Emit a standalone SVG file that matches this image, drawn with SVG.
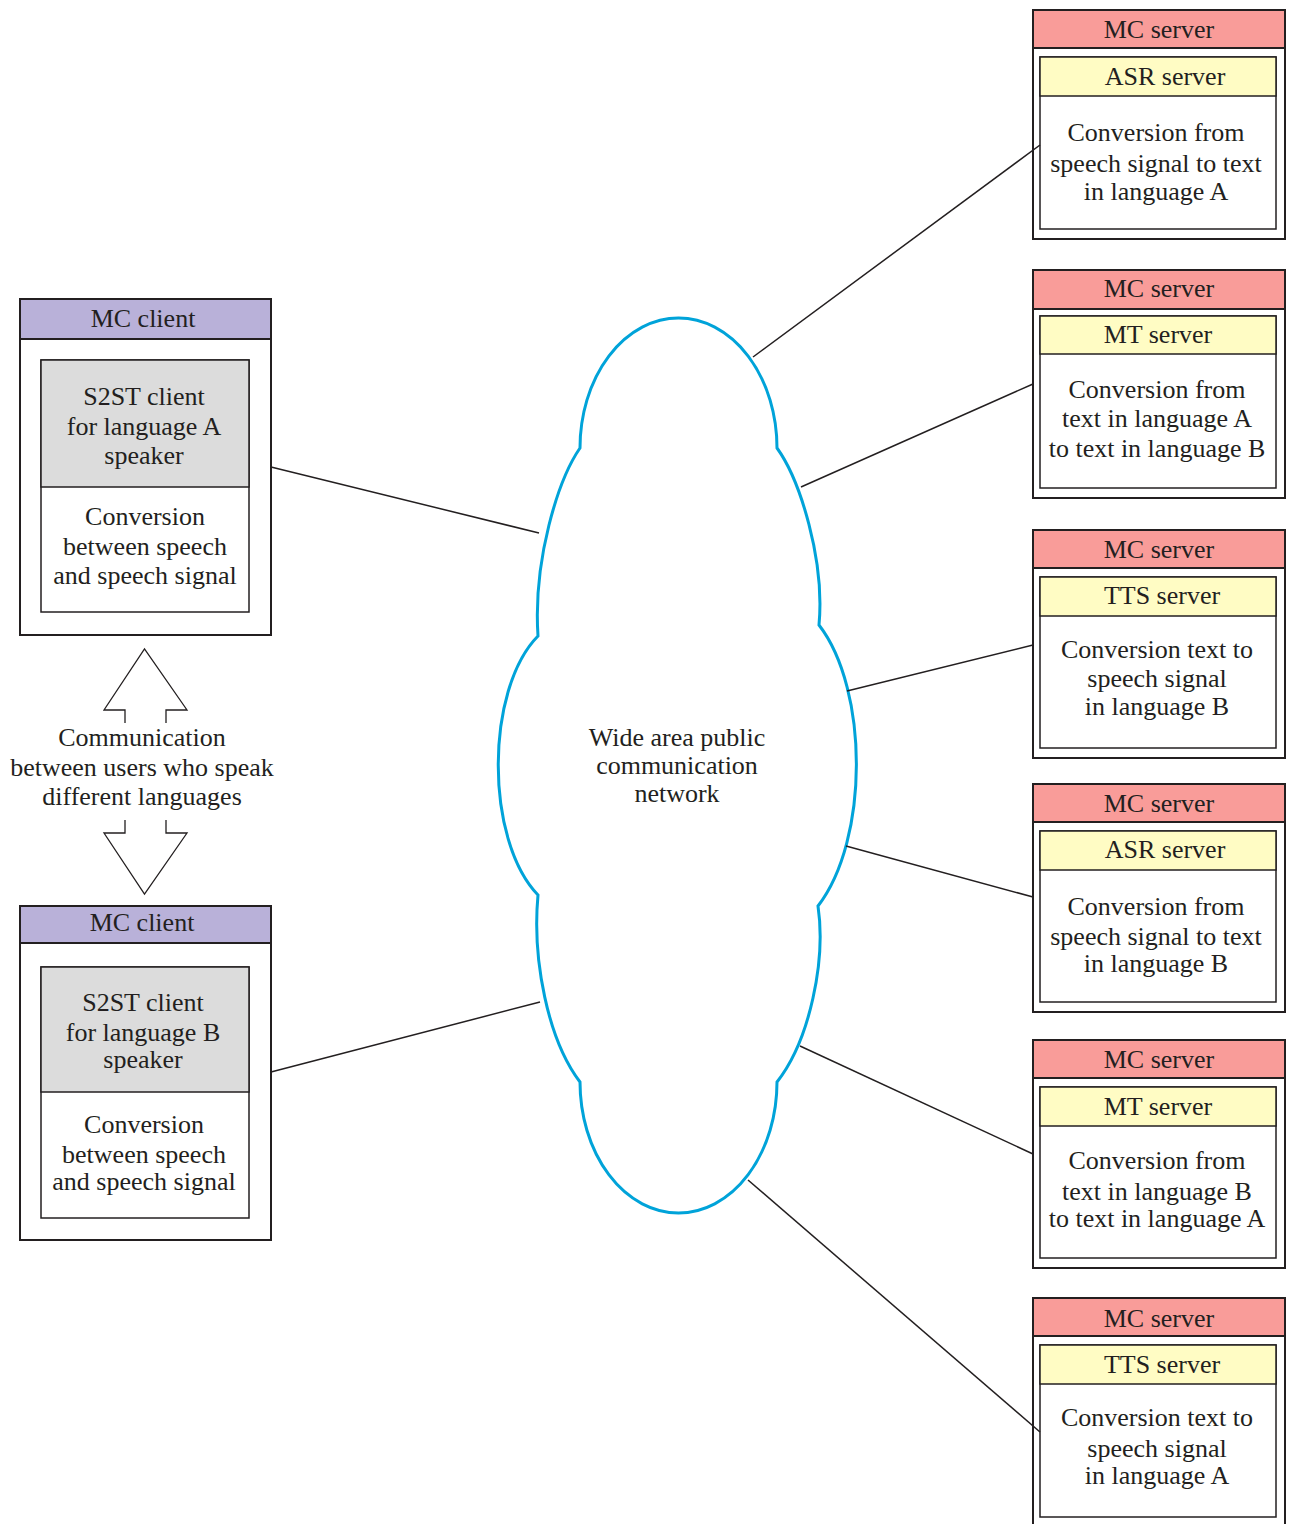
<svg xmlns="http://www.w3.org/2000/svg" width="1289" height="1524" viewBox="0 0 1289 1524">
<style>
  text { font-family: "Liberation Serif", "Times New Roman", serif; font-size: 26px; fill: #231f20; text-anchor: middle; }
  .outer { fill: #ffffff; stroke: #231f20; stroke-width: 2; }
  .inner { fill: #ffffff; stroke: #231f20; stroke-width: 1.5; }
  .mchead { fill: #f99c99; stroke: #231f20; stroke-width: 2; }
  .yhead { fill: #fffcc4; stroke: #231f20; stroke-width: 1.5; }
  .phead { fill: #b9b1d9; stroke: #231f20; stroke-width: 2; }
  .ghead { fill: #dcdcdc; stroke: #231f20; stroke-width: 1.5; }
  .conn { stroke: #231f20; stroke-width: 1.5; fill: none; }
  .cloud { fill: #ffffff; stroke: #00a3d9; stroke-width: 3; }
  .arrow { fill: none; stroke: #231f20; stroke-width: 1.3; }
</style>

<g id="cloud">
  <path class="cloud" d="M 580,448 A 98.5 130 0 0 1 777,448 C 800,480 825,560 819,625 C 869,690 869,840 818,906 C 826,960 810,1040 777,1082 A 98.5 131 0 0 1 580,1082 C 548,1040 532,960 538,895 C 485,840 485,690 538,636 C 533,560 558,480 580,448 Z"/>
  <text x="677" y="746">Wide area public</text>
  <text x="677" y="774">communication</text>
  <text x="677" y="802">network</text>
</g>

<g id="client-a">
  <rect class="outer" x="20" y="299" width="251" height="336"/>
  <rect class="phead" x="20" y="299" width="251" height="40"/>
  <text x="143" y="327">MC client</text>
  <rect class="inner" x="41" y="360" width="208" height="252"/>
  <rect class="ghead" x="41" y="360" width="208" height="127"/>
  <text x="144" y="405">S2ST client</text>
  <text x="144" y="435">for language A</text>
  <text x="144" y="464">speaker</text>
  <text x="145" y="525">Conversion</text>
  <text x="145" y="555">between speech</text>
  <text x="145" y="584">and speech signal</text>
</g>

<g id="comm-arrows">
  <path class="arrow" d="M 125,723 L 125,710 L 104,710 L 144.5,649 L 187,710 L 166,710 L 166,723"/>
  <path class="arrow" d="M 125,820 L 125,833 L 104,833 L 144.5,894 L 187,833 L 166,833 L 166,820"/>
  <text x="142" y="746">Communication</text>
  <text x="142" y="776">between users who speak</text>
  <text x="142" y="805">different languages</text>
</g>

<g id="client-b">
  <rect class="outer" x="20" y="906" width="251" height="334"/>
  <rect class="phead" x="20" y="906" width="251" height="37"/>
  <text x="142" y="931">MC client</text>
  <rect class="inner" x="41" y="967" width="208" height="251"/>
  <rect class="ghead" x="41" y="967" width="208" height="125"/>
  <text x="143" y="1011">S2ST client</text>
  <text x="143" y="1041">for language B</text>
  <text x="143" y="1068">speaker</text>
  <text x="144" y="1133">Conversion</text>
  <text x="144" y="1163">between speech</text>
  <text x="144" y="1190">and speech signal</text>
</g>

<g id="server-asr-a">
  <rect class="outer" x="1033" y="10" width="252" height="229"/>
  <rect class="mchead" x="1033" y="10" width="252" height="38"/>
  <text x="1159" y="38">MC server</text>
  <rect class="inner" x="1040" y="57" width="236" height="172"/>
  <rect class="yhead" x="1040" y="57" width="236" height="39"/>
  <text x="1165" y="85">ASR server</text>
  <text x="1156" y="141">Conversion from</text>
  <text x="1156" y="172">speech signal to text</text>
  <text x="1156" y="200">in language A</text>
</g>

<g id="server-mt-ab">
  <rect class="outer" x="1033" y="270" width="252" height="228"/>
  <rect class="mchead" x="1033" y="270" width="252" height="39"/>
  <text x="1159" y="297">MC server</text>
  <rect class="inner" x="1040" y="316" width="236" height="172"/>
  <rect class="yhead" x="1040" y="316" width="236" height="38"/>
  <text x="1158" y="343">MT server</text>
  <text x="1157" y="398">Conversion from</text>
  <text x="1157" y="427">text in language A</text>
  <text x="1157" y="457">to text in language B</text>
</g>

<g id="server-tts-b">
  <rect class="outer" x="1033" y="530" width="252" height="228"/>
  <rect class="mchead" x="1033" y="530" width="252" height="38"/>
  <text x="1159" y="558">MC server</text>
  <rect class="inner" x="1040" y="577" width="236" height="171"/>
  <rect class="yhead" x="1040" y="577" width="236" height="39"/>
  <text x="1162" y="604">TTS server</text>
  <text x="1157" y="658">Conversion text to</text>
  <text x="1157" y="687">speech signal</text>
  <text x="1157" y="715">in language B</text>
</g>

<g id="server-asr-b">
  <rect class="outer" x="1033" y="784" width="252" height="228"/>
  <rect class="mchead" x="1033" y="784" width="252" height="38"/>
  <text x="1159" y="812">MC server</text>
  <rect class="inner" x="1040" y="831" width="236" height="171"/>
  <rect class="yhead" x="1040" y="831" width="236" height="39"/>
  <text x="1165" y="858">ASR server</text>
  <text x="1156" y="915">Conversion from</text>
  <text x="1156" y="945">speech signal to text</text>
  <text x="1156" y="972">in language B</text>
</g>

<g id="server-mt-ba">
  <rect class="outer" x="1033" y="1040" width="252" height="228"/>
  <rect class="mchead" x="1033" y="1040" width="252" height="38"/>
  <text x="1159" y="1068">MC server</text>
  <rect class="inner" x="1040" y="1087" width="236" height="171"/>
  <rect class="yhead" x="1040" y="1087" width="236" height="39"/>
  <text x="1158" y="1115">MT server</text>
  <text x="1157" y="1169">Conversion from</text>
  <text x="1157" y="1200">text in language B</text>
  <text x="1157" y="1227">to text in language A</text>
</g>

<g id="server-tts-a">
  <rect class="outer" x="1033" y="1298" width="252" height="240"/>
  <rect class="mchead" x="1033" y="1298" width="252" height="38"/>
  <text x="1159" y="1327">MC server</text>
  <rect class="inner" x="1040" y="1345" width="236" height="172"/>
  <rect class="yhead" x="1040" y="1345" width="236" height="39"/>
  <text x="1162" y="1373">TTS server</text>
  <text x="1157" y="1426">Conversion text to</text>
  <text x="1157" y="1457">speech signal</text>
  <text x="1157" y="1484">in language A</text>
</g>

<g id="connectors">
  <line class="conn" x1="271" y1="467" x2="539" y2="533"/>
  <line class="conn" x1="271" y1="1072" x2="540" y2="1002"/>
  <line class="conn" x1="753" y1="357" x2="1040" y2="145"/>
  <line class="conn" x1="801" y1="487" x2="1033" y2="384"/>
  <line class="conn" x1="847" y1="691" x2="1033" y2="645"/>
  <line class="conn" x1="846" y1="846" x2="1033" y2="897"/>
  <line class="conn" x1="800" y1="1046" x2="1033" y2="1154"/>
  <line class="conn" x1="748" y1="1180" x2="1040" y2="1432"/>
</g>
</svg>
